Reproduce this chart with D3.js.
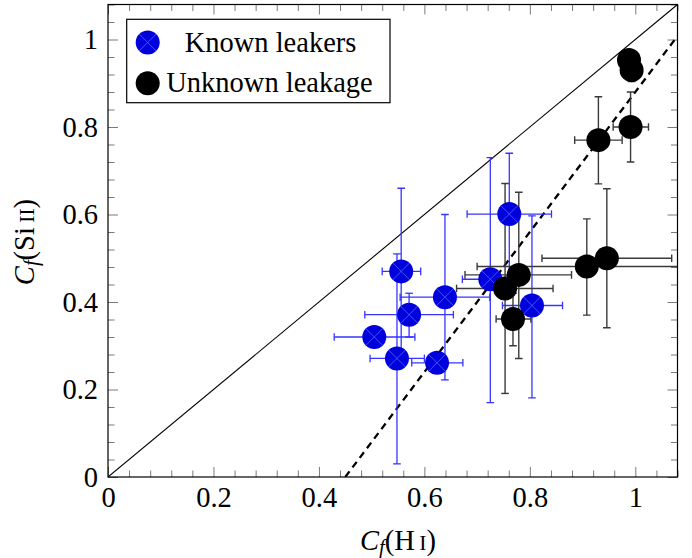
<!DOCTYPE html>
<html>
<head>
<meta charset="utf-8">
<script src="https://cdn.jsdelivr.net/npm/d3@7"></script>
<style>
  html, body { margin: 0; padding: 0; background: #fff; }
  svg { display: block; }
</style>
</head>
<body>
<svg id="chart" width="692" height="558"></svg>
<script>
// Covering fractions: Si II versus H I
const tickValues = [0, 0.2, 0.4, 0.6, 0.8, 1];
const tickLabels = ["0", "0.2", "0.4", "0.6", "0.8", "1"];

// Known leakers
const knownX   = [0.505, 0.556, 0.571, 0.639, 0.548, 0.624, 0.725, 0.761, 0.804];
const knownY   = [0.320, 0.470, 0.371, 0.411, 0.271, 0.261, 0.452, 0.601, 0.392];
const knownXLo = [0.429, 0.520, 0.487, 0.554, 0.497, 0.576, 0.672, 0.681, 0.748];
const knownXHi = [0.582, 0.593, 0.655, 0.724, 0.600, 0.673, 0.778, 0.841, 0.862];
const knownYLo = [0.310, 0.280, 0.320, 0.222, 0.030, 0.250, 0.170, 0.460, 0.181];
const knownYHi = [0.330, 0.660, 0.420, 0.600, 0.510, 0.272, 0.730, 0.740, 0.597];

// Unknown leakage
const unknownX   = [0.988, 0.993, 0.930, 0.991, 0.908, 0.946, 0.753, 0.779, 0.768];
const unknownY   = [0.953, 0.930, 0.770, 0.800, 0.481, 0.500, 0.431, 0.462, 0.361];
const unknownXLo = [0.972, 0.980, 0.885, 0.958, 0.700, 0.823, 0.661, 0.677, 0.736];
const unknownXHi = [1.004, 1.006, 0.975, 1.025, 1.116, 1.069, 0.844, 0.879, 0.802];
const unknownYLo = [0.943, 0.904, 0.670, 0.720, 0.370, 0.341, 0.191, 0.271, 0.300];
const unknownYHi = [0.963, 0.956, 0.869, 0.880, 0.590, 0.659, 0.671, 0.651, 0.420];

// Reference lines: one-to-one and fitted relation
const oneToOne = [[0, 0], [1.08, 1.08]];
const fitSlope = 1.6, fitIntercept = -0.72;

const seriesNames = ["Known leakers", "Unknown leakage"];

const FONT = "'Liberation Serif', 'Times New Roman', Times, 'DejaVu Serif', serif";

const svg = d3.select("#chart").attr("font-family", FONT);
const L = 108, R = 677.5, T = 4.5, B = 477;
const x = d3.scaleLinear().domain([0, 1.08]).range([L, R]);
const y = d3.scaleLinear().domain([0, 1.08]).range([B, T]);
const fs = 28.5;

svg.append("defs").append("clipPath").attr("id", "plotClip")
  .append("rect").attr("x", L).attr("y", T).attr("width", R - L).attr("height", B - T);

const minor = d3.range(0, 1.0801, 0.04).filter(v => !tickValues.some(t => Math.abs(t - v) < 1e-6));

function styleTicks(g) {
  g.attr("font-family", FONT);
  g.select(".domain").remove();
  g.selectAll(".tick line").attr("stroke", "#7a7a7a").attr("stroke-width", 1);
}

// minor ticks on all four sides
svg.append("g").attr("transform", `translate(0,${B})`)
  .call(d3.axisBottom(x).tickValues(minor).tickFormat("").tickSizeInner(-6.5).tickSizeOuter(0)).call(styleTicks);
svg.append("g").attr("transform", `translate(0,${T})`)
  .call(d3.axisTop(x).tickValues(minor).tickFormat("").tickSizeInner(-6.5).tickSizeOuter(0)).call(styleTicks);
svg.append("g").attr("transform", `translate(${L},0)`)
  .call(d3.axisLeft(y).tickValues(minor).tickFormat("").tickSizeInner(-6.5).tickSizeOuter(0)).call(styleTicks);
svg.append("g").attr("transform", `translate(${R},0)`)
  .call(d3.axisRight(y).tickValues(minor).tickFormat("").tickSizeInner(-6.5).tickSizeOuter(0)).call(styleTicks);

// major ticks with labels
const xAxis = svg.append("g").attr("transform", `translate(0,${B})`)
  .call(d3.axisBottom(x).tickValues(tickValues).tickFormat((d, i) => tickLabels[i])
    .tickSizeInner(-10).tickSizeOuter(0).tickPadding(10)).call(styleTicks);
xAxis.selectAll("text").attr("font-size", fs).attr("font-family", FONT).attr("fill", "#000");

const yAxis = svg.append("g").attr("transform", `translate(${L},0)`)
  .call(d3.axisLeft(y).tickValues(tickValues).tickFormat((d, i) => tickLabels[i])
    .tickSizeInner(-10).tickSizeOuter(0).tickPadding(10)).call(styleTicks);
yAxis.selectAll("text").attr("font-size", fs).attr("font-family", FONT).attr("fill", "#000");

svg.append("g").attr("transform", `translate(0,${T})`)
  .call(d3.axisTop(x).tickValues(tickValues).tickFormat("").tickSizeInner(-10).tickSizeOuter(0)).call(styleTicks);
svg.append("g").attr("transform", `translate(${R},0)`)
  .call(d3.axisRight(y).tickValues(tickValues).tickFormat("").tickSizeInner(-10).tickSizeOuter(0)).call(styleTicks);

const plot = svg.append("g").attr("clip-path", "url(#plotClip)");

// one-to-one line
plot.append("path")
  .attr("d", d3.line().x(d => x(d[0])).y(d => y(d[1]))(oneToOne))
  .attr("fill", "none").attr("stroke", "#000").attr("stroke-width", 1.1);

// fitted relation
const fitEnds = [(0 - fitIntercept) / fitSlope, 1.08];
plot.append("path")
  .attr("d", d3.line().x(d => x(d)).y(d => y(fitSlope * d + fitIntercept))(fitEnds))
  .attr("fill", "none").attr("stroke", "#000").attr("stroke-width", 2.3)
  .attr("stroke-dasharray", "7,5");

function rows(X, Y, XLo, XHi, YLo, YHi) {
  return X.map((v, i) => ({ x: v, y: Y[i], xlo: XLo[i], xhi: XHi[i], ylo: YLo[i], yhi: YHi[i] }));
}
const known = rows(knownX, knownY, knownXLo, knownXHi, knownYLo, knownYHi);
const unknown = rows(unknownX, unknownY, unknownXLo, unknownXHi, unknownYLo, unknownYHi);

const cap = 3.8;
function errorBars(data, color, width) {
  const g = plot.append("g").attr("stroke", color).attr("stroke-width", width).attr("fill", "none");
  data.forEach(d => {
    const px = x(d.x), py = y(d.y);
    const segs = [
      [x(d.xlo), py, x(d.xhi), py],
      [x(d.xlo), py - cap, x(d.xlo), py + cap],
      [x(d.xhi), py - cap, x(d.xhi), py + cap],
      [px, y(d.ylo), px, y(d.yhi)],
      [px - cap, y(d.ylo), px + cap, y(d.ylo)],
      [px - cap, y(d.yhi), px + cap, y(d.yhi)]
    ];
    segs.forEach(s => g.append("line").attr("x1", s[0]).attr("y1", s[1]).attr("x2", s[2]).attr("y2", s[3]));
  });
}
errorBars(known, "#3535ff", 1.3);
errorBars(unknown, "#3a3a3a", 1.4);

const r = 12;
const blueFill = "#0000dc", crossColor = "#4a6cff";

function blueMarker(g, cx, cy) {
  g.append("circle").attr("cx", cx).attr("cy", cy).attr("r", r).attr("fill", blueFill);
  const k = r * Math.SQRT1_2;
  g.append("line").attr("x1", cx - k).attr("y1", cy - k).attr("x2", cx + k).attr("y2", cy + k)
    .attr("stroke", crossColor).attr("stroke-width", 0.8);
  g.append("line").attr("x1", cx - k).attr("y1", cy + k).attr("x2", cx + k).attr("y2", cy - k)
    .attr("stroke", crossColor).attr("stroke-width", 0.8);
}

const blueG = plot.append("g");
known.forEach(d => blueMarker(blueG, x(d.x), y(d.y)));

plot.append("g").selectAll("circle").data(unknown).join("circle")
  .attr("cx", d => x(d.x)).attr("cy", d => y(d.y)).attr("r", r).attr("fill", "#000");

// frame
svg.append("rect").attr("x", L).attr("y", T).attr("width", R - L).attr("height", B - T)
  .attr("fill", "none").attr("stroke", "#000").attr("stroke-width", 1.2);

// legend
const lg = svg.append("g");
lg.append("rect").attr("x", 126.7).attr("y", 19.3).attr("width", 263.3).attr("height", 83.4)
  .attr("fill", "#fff").attr("stroke", "#000").attr("stroke-width", 1.2);
blueMarker(lg, 147.7, 42.5);
lg.append("circle").attr("cx", 147.7).attr("cy", 83.3).attr("r", r).attr("fill", "#000");
lg.append("text").attr("x", 270.5).attr("y", 51.5).attr("text-anchor", "middle").attr("font-size", fs).text(seriesNames[0]);
lg.append("text").attr("x", 269.5).attr("y", 92).attr("text-anchor", "middle").attr("font-size", fs).text(seriesNames[1]);

// axis titles
function axisTitle(t, species, ion) {
  t.append("tspan").attr("font-style", "italic").text("C");
  t.append("tspan").attr("font-style", "italic").attr("font-size", fs * 0.72).attr("dy", 4).text("f");
  t.append("tspan").attr("dy", -4).text("(" + species);
  t.append("tspan").attr("font-size", fs * 0.76).text("\u2009" + ion);
  t.append("tspan").text(")");
}
const xt = svg.append("text").attr("x", 398).attr("y", 550).attr("text-anchor", "middle").attr("font-size", fs);
axisTitle(xt, "H", "I");
const yt = svg.append("text").attr("transform", "translate(34,242) rotate(-90)")
  .attr("text-anchor", "middle").attr("font-size", fs);
axisTitle(yt, "Si", "II");
</script>
</body>
</html>
